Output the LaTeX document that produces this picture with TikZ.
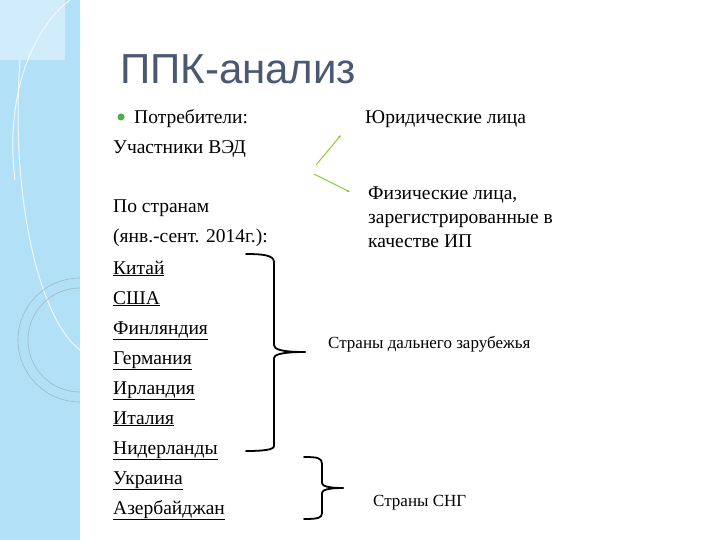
\documentclass[tikz,border=0pt]{standalone}
\usepackage{fontspec}
\usetikzlibrary{arrows.meta}
\setmainfont{Liberation Serif}
\newfontfamily\titlefont{Liberation Sans}
\definecolor{panel}{RGB}{178,224,246}
\definecolor{titlec}{RGB}{74,88,112}
\definecolor{gl}{RGB}{140,205,60}
\begin{document}
\begin{tikzpicture}[x=1pt,y=-1pt,
  txt/.style={anchor=base west,inner sep=0pt,font=\rmfamily\fontsize{19.5}{24}\selectfont},
  brace/.style={line width=1.8pt,line cap=round,line join=round},
  gline/.style={draw=gl,line width=1pt,-{Latex[length=3pt,width=3pt]}}]
\useasboundingbox (0,0) rectangle (720,540);
\fill[white] (0,0) rectangle (720,540);
\fill[panel] (0,0) rectangle (80,540);
\fill[panel!60!white] (0,0) rectangle (65,60);
\draw[white,line width=1pt,opacity=0.8] (15,180) .. controls (5,100) and (30,30) .. (70,0);
\draw[white,line width=1pt,opacity=0.8] (20,60) .. controls (10,200) and (40,320) .. (80,350);
\begin{scope}
\clip (0,0) rectangle (80,540);
\draw[panel!60!gray,line width=0.6pt] (80,340) circle (62);
\draw[panel!60!gray,line width=0.6pt] (80,340) circle (52);
\end{scope}
\node[anchor=base west,inner sep=0pt,text=titlec,font=\titlefont\fontsize{42}{48}\selectfont] (title) at (120,84) {ППК-анализ};
\fill[green!55!black!70] (121,117) circle (3.5);
\node[txt] (p) at (134,124) {Потребители:};
\node[txt] (u) at (113,154) {Участники ВЭД};
\node[txt] (j) at (365,124) {Юридические лица};
\node[txt,align=left,anchor=north west] (f) at (368,187) {Физические лица,\\зарегистрированные в\\качестве ИП};
\node[txt] (s1) at (113,213) {По странам};
\node[txt] (s2) at (113,243) {(янв.-сент. 2014г.):};
\foreach \n/\t [count=\i from 0] in {c1/Китай,c2/США,c3/Финляндия,c4/Германия,c5/Ирландия,c6/Италия,c7/Нидерланды,c8/Украина,c9/Азербайджан}
  \node[txt] (\n) at (113,{274+\i*30}) {\underline{\t}};
\node[txt,font=\rmfamily\fontsize{17}{20}\selectfont] (far) at (328,348) {Страны дальнего зарубежья};
\node[txt,font=\rmfamily\fontsize{17}{20}\selectfont] (cis) at (373,506) {Страны СНГ};
\coordinate (a1) at (316,165); \coordinate (a2) at (341,135);
\coordinate (b1) at (314,174); \coordinate (b2) at (350,192);
\draw[gline] (a1) -- (a2);
\draw[gline] (b1) -- (b2);
\draw[brace] (246,254) .. controls (262,254) and (274,255) .. (274,262) -- (274,345) .. controls (274,349) and (280,352) .. (305,352) ;
\draw[brace] (305,352) .. controls (280,352) and (274,355) .. (274,358) -- (274,446) .. controls (274,450) and (262,451) .. (246,451);
\draw[brace] (304,457) .. controls (318,457) and (322,458) .. (322,464) -- (322,483) .. controls (322,486) and (328,488) .. (343,488);
\draw[brace] (343,488) .. controls (328,488) and (322,490) .. (322,493) -- (322,513) .. controls (322,518) and (318,519) .. (304,519);
\end{tikzpicture}
\end{document}
